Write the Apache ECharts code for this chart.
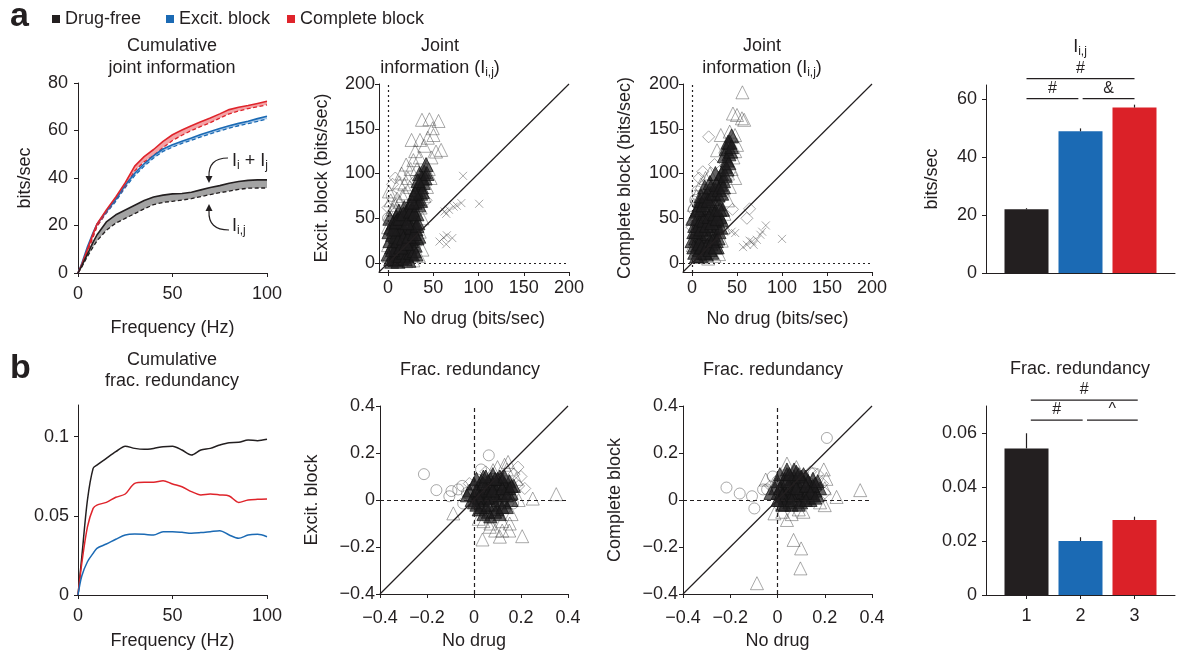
<!DOCTYPE html>
<html>
<head>
<meta charset="utf-8">
<title>Joint information and redundancy</title>
<script src="https://cdn.jsdelivr.net/npm/echarts@6/dist/echarts.min.js"></script>
<style>body{margin:0;background:#fff;}</style>
</head>
<body>
<div id="fig" style="width:1179px;height:656px;"></div>
<script type="text/javascript">
// ---- panel a, left: cumulative information vs frequency ----
var freq = [0,2,5,8,10,15,20,25,30,35,40,45,50,55,60,65,70,75,80,85,90,95,100];
var sumFree   = [0,3,8,13,16,21.5,24.5,26.5,28.5,30.5,32,32.8,33.3,33.5,34,35,36,36.8,37.8,38.5,39,39.2,39.2];
var jointFree = [0,2.5,7,11,13.5,18,21,23,25,27,28.8,29.7,30.2,30.7,31.3,32.2,33,33.8,34.5,35.2,35.7,35.8,35.8];
var sumExc    = [0,4,11,17,20.5,26,31,37,42,46,49.4,52.2,54,55.5,56.8,58.3,59.6,60.8,62,63,63.9,65,66];
var jointExc  = [0,3.5,10,16,19.8,25.2,30.2,36,41,45,48.4,51.2,53,54.6,55.9,57.3,58.6,59.8,61,62,62.9,63.8,64.8];
var sumComp   = [0,3.5,10,16.5,20.5,26.5,32,38,45,49,52,55.4,58.2,60.2,62,63.7,65.3,67,68.8,69.8,70.5,71.4,72.3];
var jointComp = [0,3,9,15,19.5,25.5,31,36.5,43,46.8,49.5,52.8,55.8,58,60,61.7,63.3,65.2,67,68.2,69.2,70,70.8];

// ---- panel b, left: cumulative fractional redundancy ----
var redunFree = [0,0.024,0.06,0.08,0.082,0.0863,0.0905,0.094,0.0926,0.092,0.0926,0.0937,0.094,0.0916,0.0884,0.0916,0.0926,0.0947,0.0962,0.0964,0.0979,0.0975,0.0983];
var redunExc  = [0,0.012,0.021,0.0263,0.0295,0.0322,0.0352,0.0379,0.0385,0.0383,0.0379,0.04,0.04,0.0396,0.039,0.0394,0.04,0.0406,0.0379,0.0358,0.0379,0.0383,0.0368];
var redunComp = [0,0.02,0.043,0.0547,0.0568,0.0585,0.0617,0.0638,0.0705,0.0712,0.0712,0.0722,0.0701,0.0684,0.0653,0.0632,0.0638,0.0632,0.0625,0.0585,0.06,0.0604,0.0606];

// ---- bars (conditions 1..3) ----
var barPos = [1,2,3];
var infoMean = [22,49,57.2];
var infoErr  = [0.4,1,1];
var redMean  = [0.0543,0.02,0.0278];
var redErr   = [0.0056,0.0014,0.0012];

// significance brackets: [x from, x to, y]
var sigInfo = [[1,3,67.2],[1,1.96,60.3],[2.04,3,60.3]];
var sigInfoTxt = ['#','#','&'];
var sigRed = [[1.08,3.06,0.0722],[1.08,2.04,0.0648],[2.12,3.06,0.0648]];
var sigRedTxt = ['#','#','^'];

// tick labels
var ticksFreq = [0,50,100];
var ticksInfo = [0,20,40,60,80];
var ticksPair = [0,50,100,150,200];
var ticksBarInfo = [0,20,40,60];
var ticksRedun = [0,0.05,0.1];
var ticksFrac = [-0.4,-0.2,0,0.2,0.4];
var ticksBarRed = [0,0.02,0.04,0.06];

// ---- scatter: joint information, no drug (x) vs excit. block (y) ----
var coreA2 = [[3,5],[6,10],[9,4],[12,12],[15,6],[18,15],[21,8],[24,18],[27,10],[30,20],
  [4,18],[7,25],[10,20],[13,28],[16,22],[19,32],[22,26],[25,35],[28,28],[31,38],
  [5,32],[8,40],[11,35],[14,45],[17,38],[20,50],[23,42],[26,52],[29,45],[32,55],
  [6,45],[9,52],[12,58],[15,50],[18,62],[21,56],[24,65],[27,60],[30,68],[33,72],
  [28,75],[31,82],[34,88],[36,78],[38,95],[40,102],[35,100],[42,110],[37,85],[39,90],
  [2,25],[3,40],[10,48],[16,8],[20,40],[26,25],[33,45],[14,35],[8,15],[22,60],
  [0,10],[1,35],[2,50],[4,2],[7,5],[11,2],[13,8],[17,12],[19,5],[23,3],[25,12],[29,14],[32,28],[34,30],[31,10],
  [5,15],[8,30],[11,25],[14,18],[17,28],[20,22],[23,30],[26,40],[29,33],[32,42],[6,38],[9,46],[13,50],[17,55],
  [21,45],[25,58],[29,55],[34,65],[36,70],[38,80],[41,95],[43,100],[27,68],[30,78],[33,92]];
var triA2 = [[37.5,160],[45.7,160.6],[55.8,158.7],[49.4,150.6],[50.2,143],[35.3,137.5],[26,137.5],[40,131],[58.7,126.4],[53,124.5],
  [44,140],[30,125],[48,118],[45,105],[47,95],[43,85],[40,75],[36,62],[38,50],[35,35],[38,15],[34,8],[28,3],[20,2],
  [22,95],[18,88],[25,105],[20,110],[15,100],[12,90],[16,75],[10,72],[8,65],[5,60],[3,70],[1,80],[2,55],[0,40],[0,20],[1,8],
  [28,115],[32,105],[24,85],[19,78],[13,68],[35,118]];
var diaA2 = [[5,88],[8,95],[42,70],[30,92],[0,62]];
var cirA2 = [[0,50],[4,75]];
var crsA2 = [[82.9,97.4],[100.7,66.2],[81,67],[76,64],[72.5,63],[67.3,59.5],[64.3,55],[62.5,57.6],[56.9,24],[61.3,28.6],[64.3,21],[71,27.9],[65,31]];

// ---- scatter: joint information, no drug (x) vs complete block (y) ----
var coreA3 = [[3,12],[6,20],[9,15],[12,25],[15,18],[18,30],[21,22],[24,32],[27,25],[30,35],
  [4,28],[7,35],[10,30],[13,40],[16,33],[19,45],[22,38],[25,48],[28,42],[31,52],
  [3,42],[6,50],[9,45],[12,55],[15,48],[18,60],[21,52],[24,62],[27,56],[30,66],
  [5,58],[8,65],[11,62],[14,72],[17,68],[20,78],[23,72],[26,82],[29,76],[32,88],
  [30,95],[33,100],[35,92],[37,108],[39,115],[41,122],[38,128],[42,135],[44,142],[36,120],
  [2,35],[10,8],[16,10],[22,12],[28,18],[34,60],[14,85],[10,75],[20,90],[26,100],
  [0,25],[1,50],[2,18],[5,8],[8,22],[11,18],[14,12],[17,20],[20,15],[23,25],[26,18],[29,28],[32,40],[33,48],
  [4,35],[7,42],[10,38],[13,48],[16,42],[19,52],[22,45],[25,55],[28,50],[31,60],[6,60],[9,70],[12,65],[15,75],
  [18,70],[21,85],[24,78],[27,88],[30,82],[33,78],[35,85],[37,98],[39,105],[41,112],[43,125],[40,135],[44,130]];
var triA3 = [[56,190.7],[45.5,167],[50,165.4],[55.5,161.7],[58,160],[41.9,146.8],[47.8,143],[32,143],[27.8,126],[37,130],
  [50,132],[46,118],[44,105],[48,95],[42,85],[40,70],[36,55],[35,40],[33,25],[25,8],[18,5],[30,10],[20,100],[15,95],
  [10,88],[5,75],[2,65],[1,20],[40,100],[48,125]];
var diaA3 = [[18.5,141],[64,60.6],[61,50],[3,50],[1,45],[0,40],[8,95],[12,102],[45,60],[25,110],[35,75]];
var cirA3 = [[3.7,70.6],[2,60],[6,80]];
var crsA3 = [[100,27],[82,42],[72,26],[66.7,24],[61,20.4],[56.7,17.8],[68.5,20.4],[76,31.6],[44,35],[48,33.5],[64,25],[78,35]];

// ---- scatter: frac. redundancy, no drug (x) vs excit. block (y) ----
var coreB2 = [[0,0.02],[0.02,0.05],[0.04,0],[0.06,0.04],[0.08,0.01],[0.1,0.06],[0.12,0.02],[0.14,0.05],[0.16,0.03],
  [0.01,-0.02],[0.03,0.08],[0.05,-0.03],[0.07,0.09],[0.09,-0.02],[0.11,0.1],[0.13,-0.01],[0.15,0.08],
  [-0.02,0.04],[0,0.07],[0.02,-0.04],[0.04,0.1],[0.06,-0.05],[0.08,0.11],[0.1,-0.04],[0.12,0.09],[0.14,-0.03],
  [0.03,0.02],[0.05,0.06],[0.07,0.02],[0.09,0.05],[0.11,0.03],[0.05,0.01],[0.08,0.07],[0.1,0],[0.02,0.03],[0.06,0.08],
  [-0.01,0],[0.01,0.09],[0.13,0.07],[0.16,0],[0.17,0.06],[0.04,-0.06],[0.07,-0.07],[0.11,-0.06],
  [0.01,0.04],[0.03,0],[0.05,0.04],[0.07,0.05],[0.09,0.02],[0.11,0.07],[0.13,0.03],[0.15,0.05],[0.04,0.07],
  [0.06,0.01],[0.08,0.04],[0.1,0.09],[0.12,0.05],[0.14,0.02],[0.02,0.01],[0.03,-0.03],[0.06,-0.02],[0.09,-0.05],
  [0.12,-0.03],[-0.03,0.02],[0,-0.01],[0.16,0.06],[0.05,0.1],[0.09,0.09],[0.13,0.1]];
var triB2 = [[-0.088,-0.057],[0.036,-0.168],[0.11,-0.156],[0.205,-0.154],[0.152,-0.1],[0.067,-0.114],[0.25,0.006],[0.35,0.025],
  [0.145,0.162],[0.081,0.127],[0.09,-0.13],[0.12,-0.13],[0.04,-0.09],[0.14,0.13],[0.16,-0.06],[0.18,0.09],[0.12,-0.09],
  [0.02,-0.08],[0.13,0.15],[0.1,0.14],[0.19,0],[0.07,-0.1],[0.15,-0.13]];
var diaB2 = [[0.187,0.14],[0.216,0.049],[0.19,0.06],[0.17,0.11],[0.2,0.1],[-0.02,0.07],[0.05,0.12]];
var cirB2 = [[-0.213,0.11],[-0.16,0.042],[-0.105,0.016],[-0.096,0.038],[-0.067,0.045],[0.063,0.19],[0.166,-0.015],[-0.046,-0.015],[-0.03,0.03],[0.03,0.13],[-0.05,0.06]];

// ---- scatter: frac. redundancy, no drug (x) vs complete block (y) ----
var coreB3 = [[0,0.03],[0.02,0.06],[0.04,0.01],[0.06,0.05],[0.08,0.02],[0.1,0.07],[0.12,0.03],[0.14,0.06],[0.16,0.04],
  [0.01,0],[0.03,0.09],[0.05,-0.01],[0.07,0.1],[0.09,0],[0.11,0.11],[0.13,0.01],[0.15,0.09],[0.17,0.02],
  [-0.01,0.05],[0,0.08],[0.02,-0.02],[0.04,0.11],[0.06,-0.02],[0.08,0.12],[0.1,-0.01],[0.12,0.1],[0.14,0],
  [0.03,0.04],[0.05,0.07],[0.07,0.03],[0.09,0.06],[0.11,0.04],[0.05,0.02],[0.08,0.08],[0.1,0.02],[0.02,0.03],[0.06,0.09],
  [0.13,0.08],[0.16,0.07],[0.18,0.05],[0.04,0.13],[0.07,0.13],[0.15,0.02],[0.01,0.11],
  [0.01,0.05],[0.03,0.01],[0.05,0.05],[0.07,0.06],[0.09,0.03],[0.11,0.08],[0.13,0.04],[0.15,0.06],[0.04,0.08],
  [0.06,0.02],[0.08,0.05],[0.1,0.1],[0.12,0.06],[0.14,0.03],[0.02,0.02],[0.03,-0.02],[0.06,0],[0.09,-0.02],
  [0.12,0],[-0.03,0.03],[0,0],[0.17,0.08],[0.05,0.11],[0.09,0.11],[0.16,0.01]];
var triB3 = [[-0.087,-0.354],[0.097,-0.291],[0.068,-0.17],[0.1,-0.206],[0.04,-0.085],[-0.013,-0.057],[0.11,-0.05],[0.2,-0.022],
  [0.25,0.013],[0.35,0.042],[0.196,0.13],[0.207,0.09],[-0.05,0.087],[0.04,0.155],[0.08,0.14],[0.02,-0.05],[0.06,-0.06],
  [0.09,-0.04],[0.18,-0.01],[0.2,0.05]];
var diaB3 = [[0.19,0.07],[0.17,0.11],[0.14,0.12],[-0.03,0.06],[0.2,0.03]];
var cirB3 = [[-0.216,0.053],[-0.16,0.0275],[-0.108,0.016],[-0.098,-0.036],[-0.061,0.045],[-0.044,0.045],[0.209,0.264],[0.153,0.113],[-0.02,0.1],[0,0.08]];

var TXT = '#231f20';
var FONT = 'Liberation Sans';
var C_FREE = '#231f20', C_EXC = '#1b6ab4', C_COMP = '#df242b';

function pairs(xs, ys){ return xs.map(function(x,i){ return [x, ys[i]]; }); }
function fmt(v){ return String(v).replace('-', '\u2212'); }

function axis(grid, min, max, ticks, margin, name, gap, showLabel){
  return {
    type:'value', gridIndex:grid, min:min, max:max,
    name:name || '', nameLocation:'middle', nameGap:gap || 0,
    nameTextStyle:{color:TXT, fontSize:18, fontFamily:FONT},
    axisLine:{show:true, onZero:false, lineStyle:{color:TXT, width:1}},
    axisTick:{show:showLabel !== false, length:4, lineStyle:{color:TXT, width:1}, customValues:ticks},
    axisLabel:{show:showLabel !== false, color:TXT, fontSize:18, fontFamily:FONT, margin:margin, customValues:ticks, formatter:fmt},
    splitLine:{show:false}
  };
}

var grids = [
  {left:78,  top:83,  width:189, height:190},
  {left:379, top:84,  width:190, height:188},
  {left:683, top:84,  width:189, height:188},
  {left:986, top:85,  width:189, height:188},
  {left:78,  top:405, width:189, height:190},
  {left:380, top:406, width:188, height:188},
  {left:683, top:406, width:189, height:188},
  {left:986, top:406, width:189, height:189}
].map(function(g){ g.containLabel = false; g.outerBoundsMode = 'none'; return g; });

var xAxes = [
  axis(0, 0, 100, ticksFreq, 12, 'Frequency (Hz)', 46),
  axis(1, -10, 200, ticksPair, 7, 'No drug (bits/sec)', 38),
  axis(2, -10, 200, ticksPair, 7, 'No drug (bits/sec)', 38),
  axis(3, 0.25, 3.75, [], 12, '', 0, false),
  axis(4, 0, 100, ticksFreq, 12, 'Frequency (Hz)', 37),
  axis(5, -0.4, 0.4, ticksFrac, 15, 'No drug', 38),
  axis(6, -0.4, 0.4, ticksFrac, 15, 'No drug', 38),
  axis(7, 0.25, 3.75, barPos, 12, '', 0)
];
var yAxes = [
  axis(0, 0, 80, ticksInfo, 10, 'bits/sec', 44),
  axis(1, -10, 200, ticksPair, 4, 'Excit. block (bits/sec)', 48),
  axis(2, -10, 200, ticksPair, 4, 'Complete block (bits/sec)', 49),
  axis(3, 0, 65, ticksBarInfo, 9, 'bits/sec', 45),
  axis(4, 0, 0.12, ticksRedun, 9, '', 0),
  axis(5, -0.4, 0.4, ticksFrac, 5, 'Excit. block', 59),
  axis(6, -0.4, 0.4, ticksFrac, 5, 'Complete block', 59),
  axis(7, 0, 0.07, ticksBarRed, 9, '', 0)
];

var series = [];

// cumulative information: shaded band between Ii+Ij (solid) and Ii,j (dashed)
var conds = [
  {name:'Excit. block', color:C_EXC, band:'#a9c9e9', sum:sumExc, joint:jointExc},
  {name:'Complete block', color:C_COMP, band:'#f3a3a6', sum:sumComp, joint:jointComp},
  {name:'Drug-free', color:C_FREE, band:'#a3a3a3', sum:sumFree, joint:jointFree}
];
conds.forEach(function(c){
  series.push({type:'custom', xAxisIndex:0, yAxisIndex:0, silent:true, z:1, data:[[0,0]],
    renderItem:function(params, api){
      var pts = [];
      for (var i = 0; i < freq.length; i++) pts.push(api.coord([freq[i], c.sum[i]]));
      for (var j = freq.length - 1; j >= 0; j--) pts.push(api.coord([freq[j], c.joint[j]]));
      return {type:'polygon', shape:{points:pts}, style:{fill:c.band}};
    }});
});
conds.forEach(function(c){
  series.push({type:'line', xAxisIndex:0, yAxisIndex:0, data:pairs(freq, c.joint), symbol:'none',
    lineStyle:{color:c.color, width:1.3, type:[4,2.5]}, silent:true, z:3});
  series.push({type:'line', name:c.name, xAxisIndex:0, yAxisIndex:0, data:pairs(freq, c.sum), symbol:'none',
    itemStyle:{color:c.color}, lineStyle:{color:c.color, width:1.6}, silent:true, z:4});
});

// cumulative fractional redundancy
[[redunFree, C_FREE, 'Drug-free'], [redunComp, C_COMP, 'Complete block'], [redunExc, C_EXC, 'Excit. block']].forEach(function(r){
  series.push({type:'line', name:r[2], xAxisIndex:4, yAxisIndex:4, data:pairs(freq, r[0]), symbol:'none', smooth:0.3,
    itemStyle:{color:r[1]}, lineStyle:{color:r[1], width:1.5}, silent:true});
});

// scatter panels
var OUTLINE = {color:'rgba(0,0,0,0)', borderColor:'rgba(60,60,60,0.55)', borderWidth:1};
var CORE = {color:'rgba(30,28,29,0.85)', borderColor:'rgba(20,20,20,0.9)', borderWidth:1};
var CROSS = 'path://M0,0L10,10M10,0L0,10';

function scatter(grid, data, symbol, size, style){
  return {type:'scatter', xAxisIndex:grid, yAxisIndex:grid, data:data, symbol:symbol, symbolSize:size,
    itemStyle:style, silent:true, animation:false};
}
function refLines(lo, hi, dash){
  var base = {color:TXT, width:1.2, type:dash};
  return {silent:true, symbol:['none','none'], label:{show:false}, animation:false,
    data:[
      [{coord:[0, lo], lineStyle:base}, {coord:[0, hi]}],
      [{coord:[lo, 0], lineStyle:base}, {coord:[hi, 0]}],
      [{coord:[lo, lo], lineStyle:{color:TXT, width:1.2, type:'solid'}}, {coord:[hi, hi]}]
    ]};
}
var panels = [
  {g:1, tri:triA2, dia:diaA2, cir:cirA2, crs:crsA2, core:coreA2, lo:-10, hi:200, dash:[2,3], cs:14},
  {g:2, tri:triA3, dia:diaA3, cir:cirA3, crs:crsA3, core:coreA3, lo:-10, hi:200, dash:[2,3], cs:14},
  {g:5, tri:triB2, dia:diaB2, cir:cirB2, crs:[], core:coreB2, lo:-0.4, hi:0.4, dash:[4,3], cs:13},
  {g:6, tri:triB3, dia:diaB3, cir:cirB3, crs:[], core:coreB3, lo:-0.4, hi:0.4, dash:[4,3], cs:13}
];
panels.forEach(function(p){
  var t = scatter(p.g, p.tri, 'triangle', 13, OUTLINE);
  t.markLine = refLines(p.lo, p.hi, p.dash);
  series.push(t);
  series.push(scatter(p.g, p.dia, 'diamond', 12, OUTLINE));
  series.push(scatter(p.g, p.cir, 'circle', 11, OUTLINE));
  series.push(scatter(p.g, p.crs, CROSS, 8, OUTLINE));
  series.push(scatter(p.g, p.core, 'triangle', p.cs, CORE));
});

// bars with one-sided error bars and significance brackets
var barColors = [C_FREE, C_EXC, '#db2128'];
function bars(grid, mean, err){
  series.push({type:'bar', xAxisIndex:grid, yAxisIndex:grid, barWidth:44, silent:true,
    data:barPos.map(function(x,i){ return {value:[x, mean[i]], itemStyle:{color:barColors[i]}}; })});
  series.push({type:'custom', xAxisIndex:grid, yAxisIndex:grid, silent:true, z:5,
    data:barPos.map(function(x,i){ return [x, mean[i], mean[i] + err[i]]; }),
    encode:{x:0, y:[1,2]},
    renderItem:function(params, api){
      var a = api.coord([api.value(0), api.value(1)]);
      var b = api.coord([api.value(0), api.value(2)]);
      return {type:'line', shape:{x1:a[0], y1:a[1], x2:b[0], y2:b[1]}, style:{stroke:TXT, lineWidth:1.2}};
    }});
}
function brackets(grid, rows, labels){
  series.push({type:'custom', xAxisIndex:grid, yAxisIndex:grid, silent:true, clip:false, z:5,
    data:rows, encode:{x:[0,1], y:2},
    renderItem:function(params, api){
      var a = api.coord([api.value(0), api.value(2)]);
      var b = api.coord([api.value(1), api.value(2)]);
      return {type:'group', children:[
        {type:'line', shape:{x1:a[0], y1:a[1], x2:b[0], y2:b[1]}, style:{stroke:TXT, lineWidth:1.2}},
        {type:'text', style:{text:labels[params.dataIndex], x:(a[0]+b[0])/2, y:a[1]-2, align:'center',
          verticalAlign:'bottom', fill:TXT, font:'16px "Liberation Sans"'}}
      ]};
    }});
}
bars(3, infoMean, infoErr);
bars(7, redMean, redErr);
brackets(3, sigInfo, sigInfoTxt);
brackets(7, sigRed, sigRedTxt);

// titles and annotations
var SUB = {fontSize:12, fontFamily:FONT, fill:TXT, verticalAlign:'bottom', lineHeight:12};
function label(x, y, text, opt){
  opt = opt || {};
  return {type:'text', x:x, y:y, silent:true, style:{text:text, align:opt.align || 'center', verticalAlign:'middle',
    fill:TXT, font:(opt.weight || 'normal') + ' ' + (opt.size || 18) + 'px "Liberation Sans"',
    lineHeight:opt.lh || 22, rich:{n:{fontSize:opt.size || 18, fontFamily:FONT, fill:TXT}, s:SUB}}};
}
function arrow(x0, y0, cx, cy, x1, y1, head){
  return [
    {type:'bezierCurve', silent:true, shape:{x1:x0, y1:y0, cpx1:cx, cpy1:cy, x2:x1, y2:y1}, style:{stroke:TXT, lineWidth:1.2, fill:null}},
    {type:'polygon', silent:true, shape:{points:head}, style:{fill:TXT}}
  ];
}
var graphics = [
  label(10, 17, 'a', {align:'left', weight:'bold', size:34}),
  label(10, 369, 'b', {align:'left', weight:'bold', size:34}),
  label(172, 57, 'Cumulative\njoint information'),
  label(440, 57, 'Joint\n{n|information (I}{s|i,j}{n|)}'),
  label(762, 57, 'Joint\n{n|information (I}{s|i,j}{n|)}'),
  label(1080, 47, '{n|I}{s|i,j}'),
  label(172, 371, 'Cumulative\nfrac. redundancy', {lh:21}),
  label(470, 370, 'Frac. redundancy'),
  label(773, 370, 'Frac. redundancy'),
  label(1080, 369, 'Frac. redundancy'),
  label(232, 161, '{n|I}{s|i}{n| + I}{s|j}', {align:'left'}),
  label(232, 226, '{n|I}{s|i,j}', {align:'left'})
].concat(
  arrow(228, 158, 208, 158, 209, 177, [[205.5,176],[212.5,176],[209,183]]),
  arrow(229, 230, 208, 230, 209, 211, [[205.5,211],[212.5,211],[209,204]])
);

function legendItem(left, name, color){
  return {left:left, top:10, padding:0, orient:'horizontal', icon:'rect', itemWidth:8, itemHeight:8, selectedMode:false,
    textStyle:{color:TXT, fontSize:18, fontFamily:FONT},
    data:[{name:name, itemStyle:{color:color}}]};
}

var chart = echarts.init(document.getElementById('fig'), null, {renderer:'canvas'});
chart.setOption({
  backgroundColor:'#ffffff',
  animation:false,
  textStyle:{fontFamily:FONT},
  legend:[legendItem(52, 'Drug-free', C_FREE), legendItem(166, 'Excit. block', C_EXC), legendItem(287, 'Complete block', C_COMP)],
  grid:grids,
  xAxis:xAxes,
  yAxis:yAxes,
  series:series,
  graphic:graphics
});
</script>
</body>
</html>
